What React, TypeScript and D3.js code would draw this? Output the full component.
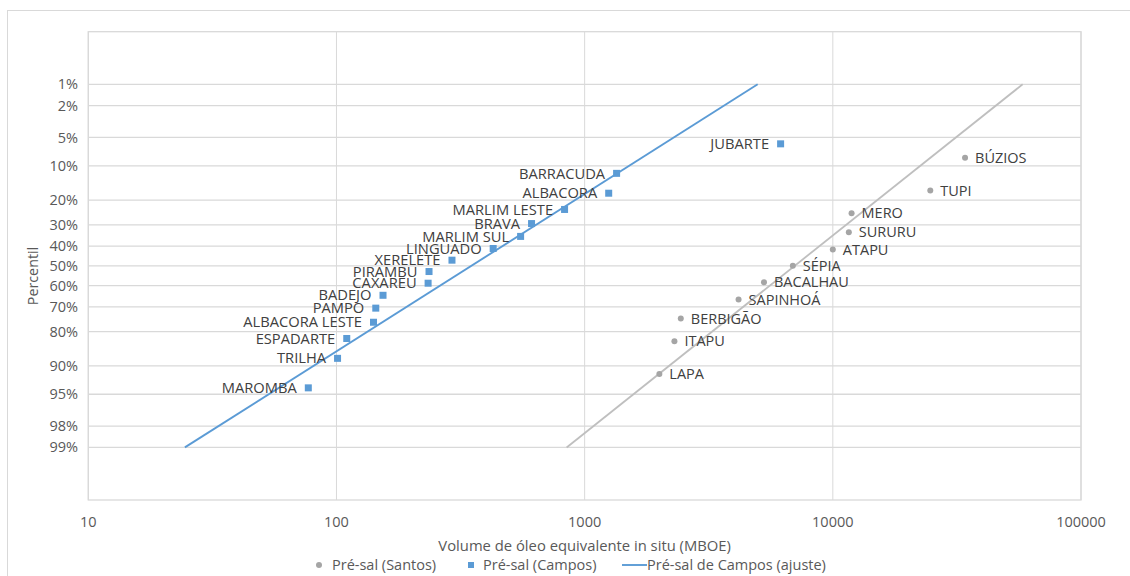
import React from "react";
import * as d3 from "d3";

// ---- Data ----
const camposNames = ["JUBARTE","BARRACUDA","ALBACORA","MARLIM LESTE","BRAVA","MARLIM SUL","LINGUADO","XERELETE","PIRAMBU","CAXAREU","BADEJO","PAMPO","ALBACORA LESTE","ESPADARTE","TRILHA","MAROMBA"];
const camposVolume = [6160, 1345, 1250, 830, 611, 552, 428, 292, 236, 234, 154, 144, 141, 110, 101, 77];
const camposPercentil = [5.9, 11.8, 17.6, 23.5, 29.4, 35.3, 41.2, 47.1, 52.9, 58.8, 64.7, 70.6, 76.5, 82.4, 88.2, 94.1];

const santosNames = ["BÚZIOS","TUPI","MERO","SURURU","ATAPU","SÉPIA","BACALHAU","SAPINHOÁ","BERBIGÃO","ITAPU","LAPA"];
const santosVolume = [34100, 24700, 11900, 11600, 10000, 6900, 5280, 4170, 2440, 2300, 2000];
const santosPercentil = [8.3, 16.7, 25.0, 33.3, 41.7, 50.0, 58.3, 66.7, 75.0, 83.3, 91.7];

const camposFitVolume = [4980, 24.5];
const camposFitPercentil = [1, 99];
const santosFitVolume = [58200, 846];
const santosFitPercentil = [1, 99];

const xTicks = [10, 100, 1000, 10000, 100000];
const yTicks = [1, 2, 5, 10, 20, 30, 40, 50, 60, 70, 80, 90, 95, 98, 99];

const xTitle = "Volume de óleo equivalente in situ (MBOE)";
const yTitle = "Percentil";
const legendLabels = ["Pré-sal (Santos)", "Pré-sal (Campos)", "Pré-sal de Campos (ajuste)"];

// ---- Helpers ----
function probit(p: number): number {
  // Acklam's inverse normal CDF
  const a = [-3.969683028665376e1, 2.209460984245205e2, -2.759285104469687e2, 1.38357751867269e2, -3.066479806614716e1, 2.506628277459239];
  const b = [-5.447609879822406e1, 1.615858368580409e2, -1.556989798598866e2, 6.680131188771972e1, -1.328068155288572e1];
  const c = [-7.784894002430293e-3, -3.223964580411365e-1, -2.400758277161838, -2.549732539343734, 4.374664141464968, 2.938163982698783];
  const d = [7.784695709041462e-3, 3.224671290700398e-1, 2.445134137142996, 3.754408661907416];
  const pl = 0.02425;
  let q, r;
  if (p < pl) {
    q = Math.sqrt(-2 * Math.log(p));
    return (((((c[0] * q + c[1]) * q + c[2]) * q + c[3]) * q + c[4]) * q + c[5]) / ((((d[0] * q + d[1]) * q + d[2]) * q + d[3]) * q + 1);
  } else if (p <= 1 - pl) {
    q = p - 0.5;
    r = q * q;
    return ((((((a[0] * r + a[1]) * r + a[2]) * r + a[3]) * r + a[4]) * r + a[5]) * q) / (((((b[0] * r + b[1]) * r + b[2]) * r + b[3]) * r + b[4]) * r + 1);
  } else {
    q = Math.sqrt(-2 * Math.log(1 - p));
    return -(((((c[0] * q + c[1]) * q + c[2]) * q + c[3]) * q + c[4]) * q + c[5]) / ((((d[0] * q + d[1]) * q + d[2]) * q + d[3]) * q + 1);
  }
}

const W = 1130, H = 576;
const L = 88.3, R = 1081, T = 31.7, B = 500;
const FONT = "'Open Sans', 'Liberation Sans', sans-serif";
const TXT = "#595959";
const LBL = "#404040";
const GRID = "#d9d9d9";
const BLUE = "#5B9BD5";
const GRAY = "#A5A5A5";
const FS = 14.5;

export default function App() {
  const x = d3.scaleLog().domain([10, 100000]).range([L, R]);
  const z = d3.scaleLinear().domain([-3, 3]).range([T, B]);
  const y = (p: number) => z(probit(p / 100));

  const line = d3.line<[number, number]>().x((d) => x(d[0])).y((d) => y(d[1]));
  const camposFit: [number, number][] = camposFitVolume.map((v, i) => [v, camposFitPercentil[i]]);
  const santosFit: [number, number][] = santosFitVolume.map((v, i) => [v, santosFitPercentil[i]]);

  const LY = 565;

  return (
    <svg width={W} height={H} style={{ position: "absolute", left: 0, top: 0, background: "#fff" }} fontFamily={FONT}>
      <rect x={7.5} y={10.5} width={W + 20} height={H + 20} fill="#fff" stroke={GRID} strokeWidth={1} />
      {/* grid */}
      {yTicks.map((t) => (
        <line key={"gy" + t} x1={L} x2={R} y1={y(t)} y2={y(t)} stroke={GRID} strokeWidth={1.3} />
      ))}
      {xTicks.map((t) => (
        <line key={"gx" + t} x1={x(t)} x2={x(t)} y1={T} y2={B} stroke={GRID} strokeWidth={1} />
      ))}
      <rect x={L} y={T} width={R - L} height={B - T} fill="none" stroke={GRID} strokeWidth={1.3} />

      {/* axis tick labels */}
      {yTicks.map((t) => (
        <text key={"ty" + t} x={78} y={y(t)} dy="0.35em" textAnchor="end" fontSize={FS} fill={TXT}>
          {t + "%"}
        </text>
      ))}
      {xTicks.map((t) => (
        <text key={"tx" + t} x={x(t)} y={522} dy="0.35em" textAnchor="middle" fontSize={FS} fill={TXT}>
          {String(t)}
        </text>
      ))}
      <text x={(L + R) / 2} y={546} dy="0.35em" textAnchor="middle" fontSize={14.8} fill={TXT}>{xTitle}</text>
      <text transform={`translate(32.5,276) rotate(-90)`} dy="0.35em" textAnchor="middle" fontSize={14.3} fill={TXT}>{yTitle}</text>

      {/* fit lines */}
      <path d={line(santosFit) || ""} fill="none" stroke="#BFBFBF" strokeWidth={1.8} />
      <path d={line(camposFit) || ""} fill="none" stroke={BLUE} strokeWidth={1.9} />

      {/* Santos points */}
      {santosVolume.map((v, i) => (
        <g key={"s" + i}>
          <circle cx={x(v)} cy={y(santosPercentil[i])} r={3} fill={GRAY} />
          <text x={x(v) + 10} y={y(santosPercentil[i])} dy="0.35em" fontSize={FS} fill={LBL}>{santosNames[i]}</text>
        </g>
      ))}
      {/* Campos points */}
      {camposVolume.map((v, i) => (
        <g key={"c" + i}>
          <rect x={x(v) - 3.5} y={y(camposPercentil[i]) - 3.5} width={7} height={7} fill={BLUE} />
          <text x={x(v) - 11.5} y={y(camposPercentil[i])} dy="0.35em" textAnchor="end" fontSize={14.7} fill={LBL}>{camposNames[i]}</text>
        </g>
      ))}

      {/* legend */}
      <circle cx={319} cy={LY} r={3} fill={GRAY} />
      <text x={332} y={LY} dy="0.35em" fontSize={FS} fill={TXT}>{legendLabels[0]}</text>
      <rect x={468} y={LY - 3} width={6} height={6} fill={BLUE} />
      <text x={483} y={LY} dy="0.35em" fontSize={FS} fill={TXT}>{legendLabels[1]}</text>
      <line x1={622} x2={647} y1={LY} y2={LY} stroke={BLUE} strokeWidth={1.9} />
      <text x={647} y={LY} dy="0.35em" fontSize={FS} fill={TXT}>{legendLabels[2]}</text>
    </svg>
  );
}
